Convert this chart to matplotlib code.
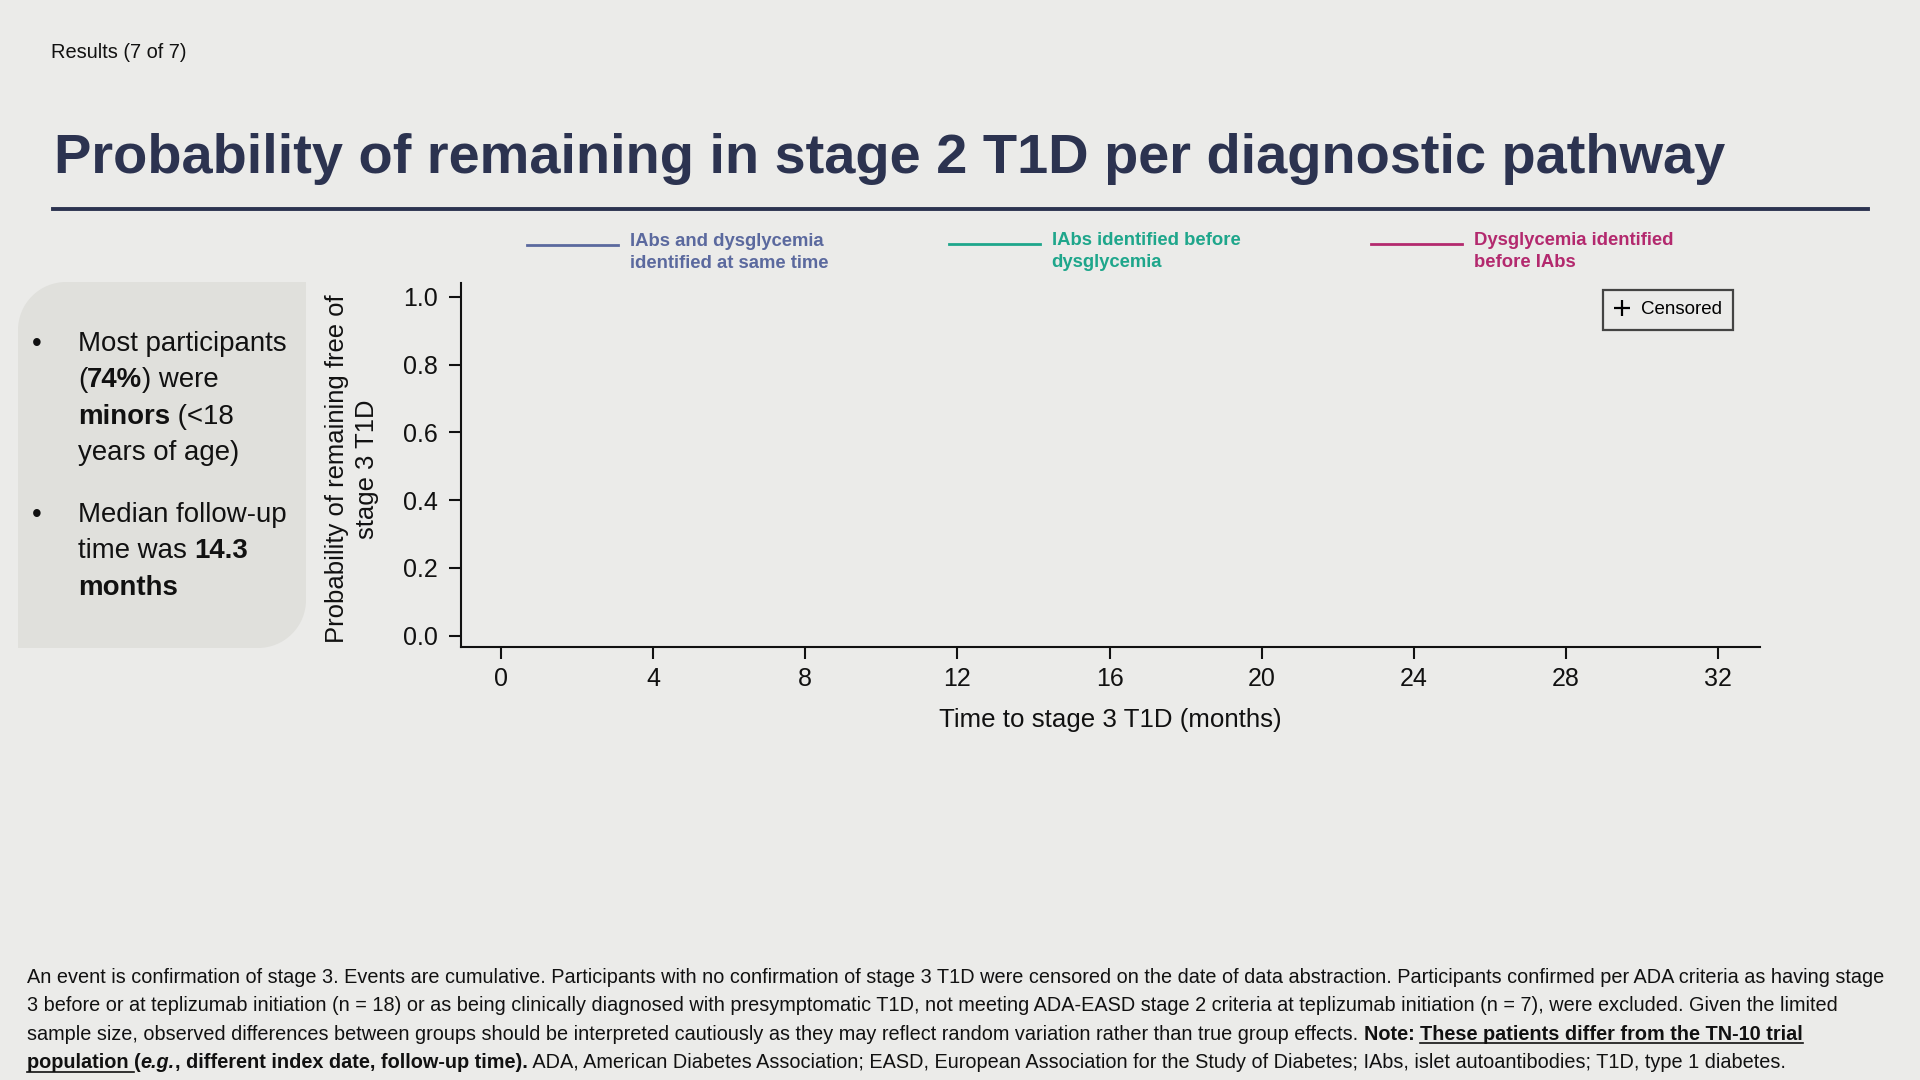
import matplotlib
matplotlib.use("Agg")
import matplotlib.pyplot as plt
from matplotlib.lines import Line2D
from matplotlib.patches import PathPatch
from matplotlib.path import Path

# ---------------- data ----------------
slide_label = "Results (7 of 7)"
title_text = "Probability of remaining in stage 2 T1D per diagnostic pathway"
series_names = [
    "IAbs and dysglycemia\nidentified at same time",
    "IAbs identified before\ndysglycemia",
    "Dysglycemia identified\nbefore IAbs",
]
series_colors = ["#5b699e", "#1ea68b", "#b3296e"]
# Kaplan-Meier curves are not yet revealed on this slide build (empty series)
series_time = [[], [], []]
series_surv = [[], [], []]
x_ticks = [0, 4, 8, 12, 16, 20, 24, 28, 32]
y_ticks = [0.0, 0.2, 0.4, 0.6, 0.8, 1.0]
y_tick_labels = ["0.0", "0.2", "0.4", "0.6", "0.8", "1.0"]
x_label = "Time to stage 3 T1D (months)"
y_label = "Probability of remaining free of\nstage 3 T1D"
censor_label = "Censored"

bullets = [
    [[("Most participants", "normal", "normal")],
     [("(", "normal", "normal"), ("74%", "bold", "normal"), (") were", "normal", "normal")],
     [("minors", "bold", "normal"), (" (<18", "normal", "normal")],
     [("years of age)", "normal", "normal")]],
    [[("Median follow-up", "normal", "normal")],
     [("time was ", "normal", "normal"), ("14.3", "bold", "normal")],
     [("months", "bold", "normal")]],
]

footnote = [
    [("An event is confirmation of stage 3. Events are cumulative. Participants with no confirmation of stage 3 T1D were censored on the date of data abstraction. Participants confirmed per ADA criteria as having stage", "normal", "normal", False)],
    [("3 before or at teplizumab initiation (n = 18) or as being clinically diagnosed with presymptomatic T1D, not meeting ADA-EASD stage 2 criteria at teplizumab initiation (n = 7), were excluded. Given the limited", "normal", "normal", False)],
    [("sample size, observed differences between groups should be interpreted cautiously as they may reflect random variation rather than true group effects. ", "normal", "normal", False),
     ("Note: ", "bold", "normal", False),
     ("These patients differ from the TN-10 trial", "bold", "normal", True)],
    [("population ", "bold", "normal", True),
     ("(", "bold", "normal", False),
     ("e.g.", "bold", "italic", False),
     (", different index date, follow-up time).", "bold", "normal", False),
     (" ADA, American Diabetes Association; EASD, European Association for the Study of Diabetes; IAbs, islet autoantibodies; T1D, type 1 diabetes.", "normal", "normal", False)],
]

# ---------------- style ----------------
W, H = 1920, 1080
BG = "#ebebe9"
PANEL = "#e0e0dc"
NAVY = "#2c3350"
INK = "#111111"
FONT = "Liberation Sans"
plt.rcParams["font.family"] = [FONT, "DejaVu Sans"]

fig = plt.figure(figsize=(W / 100, H / 100), dpi=100, facecolor=BG)
r = fig.canvas.get_renderer()


def fx(x):
    return x / W


def fy(y):
    return 1 - y / H


def text_w(s, **kw):
    t = fig.text(0, 0, s, **kw)
    w = t.get_window_extent(r).width
    t.remove()
    return w


def adv_w(s, **kw):
    return text_w("|" + s + "|", **kw) - text_w("||", **kw)


def fit_size(s, target, base=20, **kw):
    return base * target / text_w(s, fontsize=base, **kw)


def draw_runs(x, y_base, runs, size, color=INK):
    cx = x
    for run in runs:
        text, weight, style = run[0], run[1], run[2]
        ul = run[3] if len(run) > 3 else False
        kw = dict(fontsize=size, fontweight=weight, fontstyle=style)
        fig.text(fx(cx), fy(y_base), text, ha="left", va="baseline", color=color, **kw)
        w = adv_w(text, **kw)
        if ul:
            fig.add_artist(Line2D([fx(cx), fx(cx + w)], [fy(y_base + 3.5)] * 2,
                                  color=color, lw=1.2, transform=fig.transFigure))
        cx += w
    return cx


# ---------------- header ----------------
s = fit_size(slide_label, 136)
fig.text(fx(51), fy(58), slide_label, fontsize=s, color=INK, ha="left", va="baseline")

s = fit_size(title_text, 1673, base=40, fontweight="bold")
fig.text(fx(54), fy(173), title_text, fontsize=s, fontweight="bold", color=NAVY,
         ha="left", va="baseline")
fig.add_artist(Line2D([fx(53), fx(1868)], [fy(209)] * 2, color=NAVY, lw=2.8,
                      transform=fig.transFigure))

# ---------------- left panel ----------------
x0, x1, yt, yb, rad = 18, 306, 282, 648, 48
k = 0.5523 * rad
P = lambda x, y: (x / 100, (H - y) / 100)
verts = [P(x0 + rad, yt), P(x1, yt), P(x1, yb - rad),
         P(x1, yb - rad + k), P(x1 - rad + k, yb), P(x1 - rad, yb),
         P(x0, yb), P(x0, yt + rad),
         P(x0, yt + rad - k), P(x0 + rad - k, yt), P(x0 + rad, yt), P(x0 + rad, yt)]
codes = [Path.MOVETO, Path.LINETO, Path.LINETO,
         Path.CURVE4, Path.CURVE4, Path.CURVE4,
         Path.LINETO, Path.LINETO,
         Path.CURVE4, Path.CURVE4, Path.CURVE4, Path.CLOSEPOLY]
fig.add_artist(PathPatch(Path(verts, codes), facecolor=PANEL, edgecolor="none",
                         transform=fig.dpi_scale_trans, zorder=0))

bsize = fit_size("Most participants", 208)
bullet_starts = [351, 522]
for start, item in zip(bullet_starts, bullets):
    fig.text(fx(32), fy(start), "\u2022", fontsize=bsize, color=INK, ha="left", va="baseline")
    for i, line in enumerate(item):
        draw_runs(78, start + i * 36.4, line, bsize)

# ---------------- axes ----------------
ax_l, ax_r, ax_t, ax_b = 461, 1760, 283, 647
ax = fig.add_axes([fx(ax_l), fy(ax_b), (ax_r - ax_l) / W, (ax_b - ax_t) / H])
ax.set_facecolor("none")
lines = []
for t_, s_, c, n in zip(series_time, series_surv, series_colors, series_names):
    ln, = ax.step(t_, s_, where="post", color=c, lw=2.0, label=n)
    lines.append(ln)

x_per = (1718 - 501) / 32
y_per = (635.5 - 297) / 1.0
ax.set_xlim((ax_l - 501) / x_per, (ax_r - 501) / x_per)
ax.set_ylim((635.5 - ax_b) / y_per, (635.5 - ax_t) / y_per)
ax.set_xticks(x_ticks)
ax.set_xticklabels([str(v) for v in x_ticks])
ax.set_yticks(y_ticks)
ax.set_yticklabels(y_tick_labels)
for sp in ["top", "right"]:
    ax.spines[sp].set_visible(False)
for sp in ["left", "bottom"]:
    ax.spines[sp].set_linewidth(1.5)
    ax.spines[sp].set_color(INK)
tsize = 18
ax.tick_params(axis="both", direction="out", length=8.5, width=1.5, colors=INK,
               labelsize=tsize)
ax.tick_params(axis="x", pad=6)
ax.tick_params(axis="y", pad=8)

xs = fit_size(x_label, 342)
fig.text(fx((ax_l + ax_r) / 2), fy(720.5), x_label, fontsize=xs, color=INK,
         ha="center", va="center")
ys = fit_size(y_label.split("\n")[0], 348)
fig.text(fx(352), fy(469), y_label, fontsize=ys, color=INK, rotation=90,
         ha="center", va="center", multialignment="center", linespacing=1.3)

# censored legend
cens = Line2D([], [], marker="+", ls="none", color="black", markersize=11, markeredgewidth=1.6)
cl = ax.legend(handles=[cens], labels=[censor_label], loc="upper right",
               bbox_to_anchor=(fx(1733), fy(290)), bbox_transform=fig.transFigure,
               fancybox=False, edgecolor="#1a1a1a", facecolor="none", framealpha=None,
               borderpad=0.6, borderaxespad=0, handlelength=0.8, handletextpad=0.62,
               prop=dict(size=13.5))
cl.get_frame().set_linewidth(1.6)

# series legend (top)
leg_pos = [(527, 232), (949, 231), (1371, 231)]
for ln, n, c, (lx, ly) in zip(lines, series_names, series_colors, leg_pos):
    lg = fig.legend(handles=[ln], labels=[n], loc="upper left",
                    bbox_to_anchor=(fx(lx), fy(ly)), frameon=False, borderpad=0,
                    borderaxespad=0, handlelength=4.9, handleheight=3.2,
                    handletextpad=0.65,
                    prop=dict(size=13.3, weight="bold"), labelcolor=c)
    for t in lg.get_texts():
        t.set_linespacing(1.37)

# ---------------- footnote ----------------
fs = fit_size(footnote[0][0][0], 1852, base=13)
for i, line in enumerate(footnote):
    draw_runs(27, 983 + i * 28.4, line, fs)

fig.savefig("out.png", dpi=100, facecolor=BG)
